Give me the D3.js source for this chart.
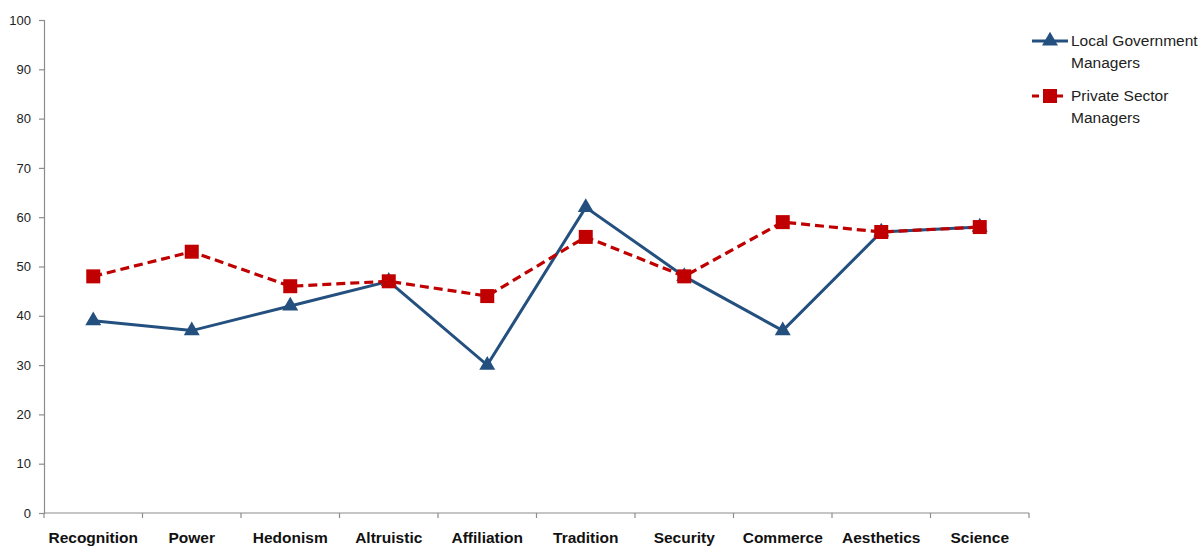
<!DOCTYPE html>
<html>
<head>
<meta charset="utf-8">
<script src="https://cdn.jsdelivr.net/npm/d3@7"></script>
<style>
  html, body { margin: 0; padding: 0; background: #fff; }
  svg { display: block; font-family: "Liberation Sans", Arial, sans-serif; }
</style>
</head>
<body>
<svg id="chart" width="1199" height="546"></svg>
<script>
// Work value categories
const categories = ["Recognition", "Power", "Hedonism", "Altruistic", "Affiliation",
                    "Tradition", "Security", "Commerce", "Aesthetics", "Science"];
// Scores per group
const localGov = [39, 37, 42, 47, 30, 62, 48, 37, 57, 58];
const privateSector = [48, 53, 46, 47, 44, 56, 48, 59, 57, 58];
const yTicks = [0, 10, 20, 30, 40, 50, 60, 70, 80, 90, 100];
const seriesNames = ["Local Government\nManagers", "Private Sector\nManagers"];

const svg = d3.select("#chart");
const plotLeft = 44, plotRight = 1029, plotTop = 20, plotBottom = 513;

const x = d3.scaleBand().domain(categories).range([plotLeft, plotRight]);
const y = d3.scaleLinear().domain([0, 100]).range([plotBottom, plotTop]);

const blue = "#23507f", red = "#c00000", axisCol = "#8c8c8c";

// Y axis
const yAxis = svg.append("g").attr("transform", `translate(${plotLeft},0)`)
  .call(d3.axisLeft(y).tickValues(yTicks).tickSize(5).tickPadding(8));
yAxis.selectAll("path, line").attr("stroke", axisCol).attr("stroke-width", 1.2);
yAxis.selectAll("text").attr("font-size", 13).attr("fill", "#222")
  .attr("font-family", "'Liberation Sans', Arial, sans-serif");

// X axis with ticks at band boundaries
const xAxis = svg.append("g").attr("transform", `translate(0,${plotBottom})`);
xAxis.append("line").attr("x1", plotLeft).attr("x2", plotRight).attr("y1", 0).attr("y2", 0)
  .attr("stroke", axisCol).attr("stroke-width", 1.2);
const bounds = categories.map(c => x(c)).concat([plotRight]);
xAxis.selectAll("line.tk").data(bounds).join("line").attr("class", "tk")
  .attr("x1", d => d).attr("x2", d => d).attr("y1", 0).attr("y2", 5)
  .attr("stroke", axisCol).attr("stroke-width", 1.2);
xAxis.selectAll("text").data(categories).join("text")
  .attr("x", d => x(d) + x.bandwidth() / 2).attr("y", 30)
  .attr("text-anchor", "middle").attr("font-size", 15.5).attr("font-weight", "bold")
  .attr("fill", "#111").text(d => d);

const cx = (d, i) => x(categories[i]) + x.bandwidth() / 2;
const line = d3.line().x((d, i) => cx(d, i)).y(d => y(d));
const tri = d3.symbol().type(d3.symbolTriangle).size(110);

// Local government series (solid, triangles)
svg.append("path").datum(localGov).attr("d", line)
  .attr("fill", "none").attr("stroke", blue).attr("stroke-width", 3);
svg.selectAll("path.lg").data(localGov).join("path").attr("class", "lg")
  .attr("d", tri).attr("transform", (d, i) => `translate(${cx(d, i)},${y(d)})`)
  .attr("fill", blue);

// Private sector series (dashed, squares)
svg.append("path").datum(privateSector).attr("d", line)
  .attr("fill", "none").attr("stroke", red).attr("stroke-width", 3.2)
  .attr("stroke-dasharray", "9,5");
svg.selectAll("rect.ps").data(privateSector).join("rect").attr("class", "ps")
  .attr("x", (d, i) => cx(d, i) - 7).attr("y", d => y(d) - 7)
  .attr("width", 14).attr("height", 14).attr("fill", red);

// Legend
const legend = svg.append("g");
const items = [
  { name: seriesNames[0], color: blue, dash: null, y: 41, shape: "tri" },
  { name: seriesNames[1], color: red, dash: "9,5", y: 96, shape: "sq" }
];
items.forEach(it => {
  legend.append("line").attr("x1", 1032).attr("x2", 1068).attr("y1", it.y).attr("y2", it.y)
    .attr("stroke", it.color).attr("stroke-width", 3)
    .attr("stroke-dasharray", it.dash ? "7,5" : null);
  if (it.shape === "tri") {
    legend.append("path").attr("d", tri).attr("transform", `translate(1050,${it.y})`).attr("fill", it.color);
  } else {
    legend.append("rect").attr("x", 1043).attr("y", it.y - 7).attr("width", 14).attr("height", 14).attr("fill", it.color);
  }
  const t = legend.append("text").attr("x", 1071).attr("y", it.y + 5)
    .attr("font-size", 15.5).attr("fill", "#222");
  it.name.split("\n").forEach((s, k) => {
    t.append("tspan").attr("x", 1071).attr("dy", k === 0 ? 0 : 22).text(s);
  });
});
</script>
</body>
</html>
